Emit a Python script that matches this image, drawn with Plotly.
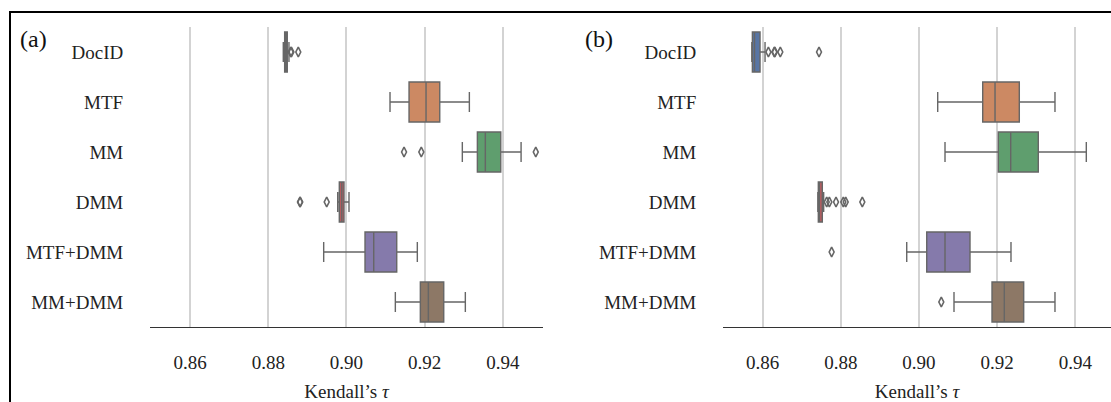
import plotly.graph_objects as go

categories = ["DocID", "MTF", "MM", "DMM", "MTF+DMM", "MM+DMM"]
colors = ["#5875a4", "#cc8963", "#5f9e6e", "#b55d60", "#857aab", "#8d7866"]

# panel (a)
a_q1 = [0.88417, 0.91601, 0.93350, 0.89816, 0.90474, 0.91890]
a_med = [0.88450, 0.92036, 0.93554, 0.89880, 0.90697, 0.92095]
a_q3 = [0.88484, 0.92387, 0.93949, 0.89936, 0.91286, 0.92489]
a_lo = [0.88382, 0.91114, 0.92965, 0.89775, 0.89416, 0.91250]
a_hi = [0.88527, 0.93145, 0.94469, 0.90064, 0.91813, 0.93042]
a_out_x = [0.88571, 0.88590, 0.88766, 0.91473, 0.91915, 0.94845, 0.88809, 0.88815, 0.89493]
a_out_cat = ["DocID", "DocID", "DocID", "MM", "MM", "MM", "DMM", "DMM", "DMM"]

# panel (b)
b_q1 = [0.85735, 0.91631, 0.92030, 0.87423, 0.90198, 0.91869]
b_med = [0.85790, 0.91946, 0.92348, 0.87450, 0.90666, 0.92184]
b_q3 = [0.85931, 0.92568, 0.93054, 0.87525, 0.91306, 0.92680]
b_lo = [0.85720, 0.90479, 0.90666, 0.87410, 0.89686, 0.90896]
b_hi = [0.86059, 0.93481, 0.94283, 0.87560, 0.92355, 0.93481]
b_out_x = [0.86145, 0.86297, 0.86310, 0.86450, 0.87441,
           0.87638, 0.87705, 0.87876, 0.88063, 0.88124, 0.88549,
           0.87764, 0.90571]
b_out_cat = ["DocID"] * 5 + ["DMM"] * 6 + ["MTF+DMM", "MM+DMM"]

tick_vals = [0.86, 0.88, 0.90, 0.92, 0.94]
tick_text = ["0.86", "0.88", "0.90", "0.92", "0.94"]

LINE = "#666666"
FONT = "Liberation Serif"

fig = go.Figure()

panels = [
    ("x", "y", a_q1, a_med, a_q3, a_lo, a_hi, a_out_x, a_out_cat),
    ("x2", "y2", b_q1, b_med, b_q3, b_lo, b_hi, b_out_x, b_out_cat),
]
for xa, ya, q1, med, q3, lo, hi, ox, oc in panels:
    for i, cat in enumerate(categories):
        fig.add_trace(go.Box(
            y=[cat], q1=[q1[i]], median=[med[i]], q3=[q3[i]],
            lowerfence=[lo[i]], upperfence=[hi[i]],
            orientation="h", width=0.8, whiskerwidth=0.5,
            fillcolor=colors[i], line=dict(color=LINE, width=1.4),
            boxpoints=False, xaxis=xa, yaxis=ya, showlegend=False,
            hoverinfo="skip",
        ))
    fig.add_trace(go.Scatter(
        x=ox, y=oc, mode="markers", xaxis=xa, yaxis=ya, showlegend=False,
        marker=dict(symbol="diamond-tall-open", size=7, color=LINE,
                    line=dict(width=1.6, color=LINE)),
        hoverinfo="skip",
    ))

xcommon = dict(
    tickvals=tick_vals, ticktext=tick_text, showgrid=True,
    gridcolor="#d3d3d3", gridwidth=1.5, zeroline=False,
    showline=True, linecolor="#333333", linewidth=1.3,
    ticks="outside", ticklen=18, tickcolor="rgba(0,0,0,0)",
    tickfont=dict(family=FONT, size=19, color="#222222"),
    title=dict(text="Kendall’s <i>τ</i>", font=dict(family=FONT, size=19, color="#222222"),
               standoff=16),
)
ycommon = dict(
    categoryorder="array", categoryarray=categories, type="category",
    range=[5.5, -0.5], showgrid=False, zeroline=False, showline=False,
    ticks="outside", ticklen=22, tickcolor="rgba(0,0,0,0)",
    tickfont=dict(family=FONT, size=19, color="#222222"),
)

fig.update_layout(
    width=1111, height=402,
    margin=dict(l=0, r=0, t=27, b=75),
    paper_bgcolor="white", plot_bgcolor="white",
    xaxis=dict(domain=[0.13501, 0.48875], range=[0.8497, 0.9503], anchor="y", **xcommon),
    xaxis2=dict(domain=[0.6508, 1.0], range=[0.84984, 0.94915], anchor="y2", **xcommon),
    yaxis=dict(anchor="x", **ycommon),
    yaxis2=dict(anchor="x2", **ycommon),
    annotations=[
        dict(text="(a)", x=18 / 1111, y=(327 - 39) / 300, xref="paper", yref="paper",
             xanchor="left", yanchor="middle", showarrow=False,
             font=dict(family=FONT, size=24, color="#111111")),
        dict(text="(b)", x=583 / 1111, y=(327 - 39) / 300, xref="paper", yref="paper",
             xanchor="left", yanchor="middle", showarrow=False,
             font=dict(family=FONT, size=24, color="#111111")),
    ],
    shapes=[
        dict(type="rect", xref="paper", yref="paper",
             x0=10 / 1111, x1=1.2, y0=-0.6, y1=(327 - 12) / 300,
             line=dict(color="black", width=2), fillcolor="rgba(0,0,0,0)", layer="above"),
    ],
)

fig.write_html("out.html", config={"displayModeBar": False})

# remove the browser's default page margin so the figure sits at the window's corner
with open("out.html", "r", encoding="utf-8") as f:
    html = f.read()
html = html.replace("<head>", "<head><style>html,body{margin:0;padding:0;overflow:hidden;}</style>", 1)
with open("out.html", "w", encoding="utf-8") as f:
    f.write(html)
